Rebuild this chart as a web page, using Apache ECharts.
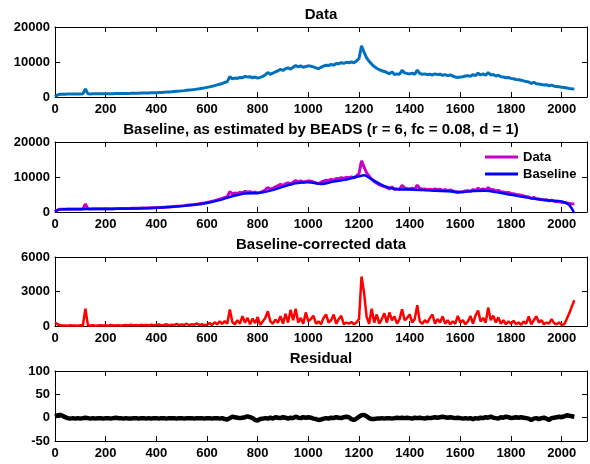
<!DOCTYPE html>
<html>
<head>
<meta charset="utf-8">
<script src="https://cdn.jsdelivr.net/npm/echarts@6/dist/echarts.min.js"></script>
<style>
  html, body { margin: 0; padding: 0; background: #fff; }
  #main { width: 590px; height: 464px; }
</style>
</head>
<body>
<div id="main"></div>
<script>
// samples every 10 points (0..2050)
const step = 10
const rawData = [
  100, 600, 780, 800, 820, 830, 840, 850, 860, 870,
  880, 900, 2300, 900, 880, 900, 910, 920, 930, 920,
  940, 950, 940, 960, 970, 980, 990, 1000, 1010, 1030,
  1040, 1060, 1080, 1090, 1110, 1130, 1150, 1170, 1200, 1220,
  1250, 1290, 1320, 1360, 1400, 1450, 1500, 1560, 1620, 1680,
  1750, 1820, 1900, 1980, 2060, 2150, 2250, 2350, 2480, 2600,
  2750, 2900, 3050, 3250, 3450, 3650, 3850, 4150, 4400, 5800,
  5200, 5400, 5300, 5600, 5500, 5900, 5700, 5800, 5500, 5700,
  5400, 5600, 5900, 6300, 7000, 6500, 6800, 7200, 7500, 7900,
  7600, 8100, 8300, 8000, 8500, 9000, 8600, 8900, 8500, 8700,
  8900, 8800, 8600, 8300, 8100, 8500, 8800, 9100, 9000, 9300,
  9100, 9600, 9500, 9800, 9600, 9900, 9800, 10000, 9800, 10300,
  11000, 14600, 12800, 11200, 10200, 9400, 8700, 8200, 7800, 7500,
  7300, 7000, 6600, 7200, 6400, 6600, 6500, 7600, 6900, 6700,
  6600, 6800, 6500, 7700, 6700, 6500, 6600, 6400, 6500, 6300,
  6600, 6400, 6500, 6200, 6400, 6100, 6300, 6000, 5700, 5600,
  5700, 5800, 6000, 6100, 5900, 6400, 6100, 6800, 6300, 6600,
  6200, 7000, 6300, 6400, 6000, 6200, 5800, 5700, 5500, 5600,
  5300, 5200, 5000, 4900, 4800, 4600, 4400, 4300, 3900, 4200,
  3800, 3700, 3600, 3400, 3500, 3200, 3400, 3100, 3000, 2900,
  2800, 2700, 2600, 2450, 2350, 2300
]
const baseX = [
  0, 20, 50, 100, 150, 200, 250, 300, 350, 400, 450, 500, 550, 600, 650, 700,
  750, 800, 850, 900, 950, 1000, 1050, 1100, 1150, 1200, 1220, 1250, 1300, 1350,
  1400, 1450, 1500, 1550, 1600, 1650, 1700, 1750, 1800, 1850, 1900, 1950, 2000,
  2025, 2040, 2050
]
const baseY = [
  100, 750, 800, 820, 840, 860, 900, 980, 1080, 1200, 1400, 1680, 2050, 2600, 3400, 4500,
  5300, 5400, 6100, 7200, 8200, 8500, 8000, 8700, 9300, 10200, 10500, 9300, 7400, 6500,
  6400, 6300, 6100, 5900, 5700, 6000, 6100, 5600, 4900, 4300, 3700, 3300, 3000,
  2300, 1000, -500
]
const corrected = [
  300, 150, 60, 40, 50, 30, 60, 40, 50, 30,
  60, 40, 1500, 50, 40, 60, 30, 50, 70, 40,
  60, 30, 80, 50, 40, 70, 30, 60, 90, 40,
  120, 50, 80, 40, 100, 60, 90, 40, 110, 60,
  80, 130, 50, 90, 150, 60, 120, 80, 180, 70,
  140, 90, 200, 60, 160, 110, 220, 80, 150, 60,
  120, 250, 100, 320, 150, 400, 180, 420, 200, 1430,
  350, 150, 500, 200, 850, 300, 700, 150, 650, 250,
  780, 100, 400, 700, 1280, 400, 200, 550, 300, 850,
  200, 1050, 300, 1400, 500, 1500, 300, 700, 200, 1180,
  400, 600, 900, 200, 400, 150, 700, 1000, 300, 500,
  1000, 200, 600, 890, 150, 300, 200, 350, 150, 300,
  600, 4300, 2900, 800, 200, 1500, 300, 1000, 200, 600,
  1100, 300, 1180, 500, 840, 200, 600, 1450, 500, 700,
  1000, 300, 600, 1800, 400, 200, 500, 300, 700, 1000,
  200, 600, 300, 840, 200, 500, 150, 400, 200, 870,
  300, 500, 150, 400, 870, 200, 900, 1350, 400, 700,
  300, 1600, 500, 900, 300, 750, 200, 500, 150, 400,
  200, 450, 150, 300, 100, 400, 200, 840, 150, 500,
  840, 300, 500, 150, 300, 200, 600, 250, 150, 300,
  100, 150, 600, 1100, 1700, 2240
]
const residual = [
  3, 5, 6, 4, 1, -1, -2, -1, -2, -1,
  -2, -1, 0, -1, -2, -1, -2, -1, -1, -2,
  -1, -1, -2, -1, 0, -1, -1, -2, -1, -2,
  -2, -1, -1, -2, -1, -1, -2, -1, -2, -1,
  -1, -2, -1, -1, -2, -1, -1, -1, -2, -1,
  -1, -2, -1, -1, -1, -2, -1, -1, -1, -2,
  -1, -1, -2, -1, -1, -2, -1, -3, -4, -1,
  2, 1, 0, -1, 0, 1, 3, 1, -1, -5,
  -6, -3, -2, -1, -2, 0, -2, 1, 0, -1,
  1, 0, -2, 0, -1, 2, 0, -1, 1, 0,
  1, 0, -2, -3, -5, -4, -2, -1, -2, 0,
  -1, 1, 0, -1, 1, 2, 1, -3, -5, -2,
  2, 5, 6, 3, -1, -3, -3, -2, -2, -1,
  -2, -1, -1, -2, -1, 0, -1, 0, -1, 0,
  -1, -2, 0, -1, 0, -1, -2, 0, -1, 0,
  1, 0, 1, 2, 1, 0, 1, 0, -1, 0,
  -1, -2, -1, -2, -1, -3, -1, -2, 0, -1,
  1, 0, 2, 0, -1, -2, 1, 0, 2, 1,
  -1, 0, 1, 0, 1, 0, -1, -2, -5, -2,
  -1, -3, -1, 0, -2, -5, -1, 0, 1, 2,
  1, 3, 5, 4, 3, 2
]
const titles = [
  'Data',
  'Baseline, as estimated by BEADS (r = 6, fc = 0.08, d = 1)',
  'Baseline-corrected data',
  'Residual'
]
// [min, max, interval] per panel
const yRanges = [[0, 20000, 10000], [0, 20000, 10000], [0, 6000, 3000], [-50, 100, 50]]
const xRange = [0, 2100, 200]

const font = 'Liberation Sans, Arial, sans-serif'
const tops = [27, 142, 257, 371]
const heights = [70, 70, 69, 70]

const idx = arr => arr.map((v, i) => [i * step, v])

const myChart = echarts.init(document.getElementById('main'))

const grids = []
const xAxes = []
const yAxes = []
for (let i = 0; i < 4; i++) {
  grids.push({ left: 55, top: tops[i], width: 532, height: heights[i] })
  const lineStyle = { color: '#000', width: 1 }
  const tick = { show: true, inside: true, length: 5, lineStyle: lineStyle }
  const lbl = {
    color: '#000', fontSize: 13, fontWeight: 'bold', fontFamily: font,
    formatter: v => String(v)
  }
  xAxes.push({
    type: 'value', gridIndex: i, min: xRange[0], max: xRange[1], interval: xRange[2],
    position: 'bottom',
    axisLine: { show: true, onZero: false, lineStyle: lineStyle },
    axisTick: tick,
    axisLabel: Object.assign({ margin: 6, showMaxLabel: false }, lbl),
    splitLine: { show: false }
  })
  xAxes.push({
    type: 'value', gridIndex: i, min: xRange[0], max: xRange[1], interval: xRange[2],
    position: 'top',
    axisLine: { show: true, onZero: false, lineStyle: lineStyle },
    axisTick: tick,
    axisLabel: { show: false },
    splitLine: { show: false }
  })
  const r = yRanges[i]
  yAxes.push({
    type: 'value', gridIndex: i, min: r[0], max: r[1], interval: r[2],
    position: 'left',
    axisLine: { show: true, onZero: false, lineStyle: lineStyle },
    axisTick: tick,
    axisLabel: Object.assign({ margin: 5 }, lbl),
    splitLine: { show: false }
  })
  yAxes.push({
    type: 'value', gridIndex: i, min: r[0], max: r[1], interval: r[2],
    position: 'right',
    axisLine: { show: true, onZero: false, lineStyle: lineStyle },
    axisTick: tick,
    axisLabel: { show: false },
    splitLine: { show: false }
  })
}

const lineSeries = (name, data, panel, color, width, smooth) => ({
  name: name,
  type: 'line',
  xAxisIndex: panel * 2,
  yAxisIndex: panel * 2,
  data: data,
  showSymbol: false,
  smooth: smooth || false,
  clip: true,
  lineStyle: { color: color, width: width },
  itemStyle: { color: color }
})

const centers = [15, 130, 245, 359]

myChart.setOption({
  animation: false,
  backgroundColor: '#fff',
  grid: grids,
  xAxis: xAxes,
  yAxis: yAxes,
  legend: {
    data: ['Data', 'Baseline'],
    orient: 'vertical',
    left: 485,
    top: 150,
    padding: 0,
    itemGap: 3,
    itemWidth: 33,
    itemHeight: 3,
    icon: 'rect',
    textStyle: { color: '#000', fontSize: 13, fontWeight: 'bold', fontFamily: font, lineHeight: 14 }
  },
  graphic: titles.map((t, i) => ({
    type: 'text',
    x: 321,
    y: centers[i],
    style: {
      text: t,
      fill: '#000',
      font: 'bold 15px ' + font,
      textAlign: 'center',
      textVerticalAlign: 'middle'
    }
  })),
  series: [
    lineSeries('Signal', idx(rawData), 0, '#0072BD', 3),
    lineSeries('Data', idx(rawData), 1, '#C800C8', 3),
    lineSeries('Baseline', baseX.map((x, i) => [x, baseY[i]]), 1, '#0000FF', 2.5, 0.3),
    lineSeries('Corrected', idx(corrected), 2, '#FF0000', 2.5),
    lineSeries('Residual', idx(residual), 3, '#000000', 4.5)
  ]
})
</script>
</body>
</html>
